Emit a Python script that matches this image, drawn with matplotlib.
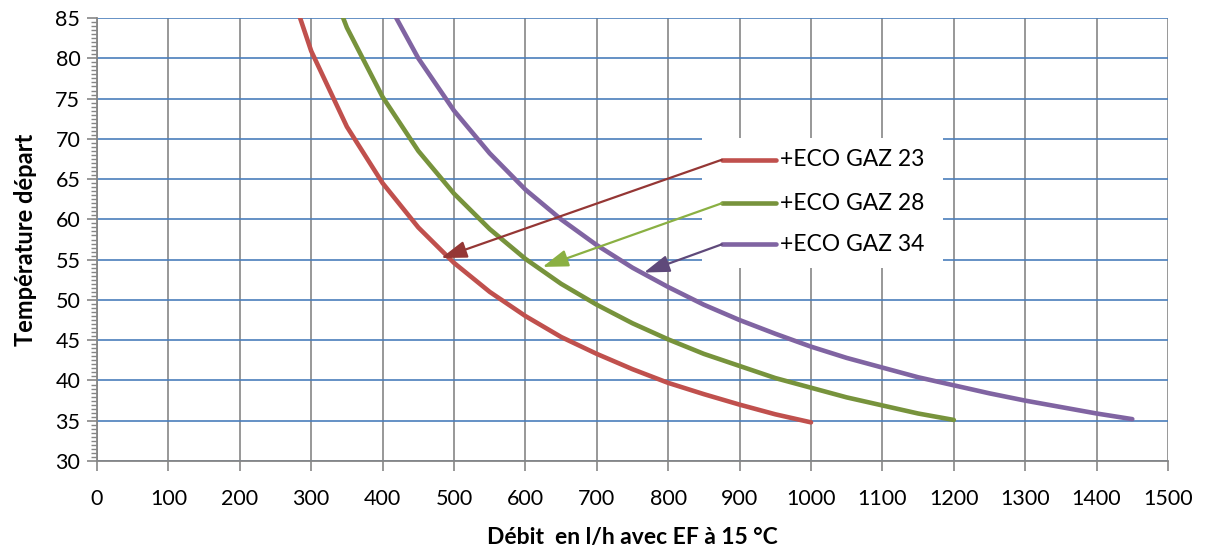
import matplotlib.pyplot as plt
from matplotlib.ticker import MultipleLocator
from matplotlib.patches import Rectangle

plt.rcParams['font.family'] = ['Lato', 'DejaVu Sans']

# valeurs (débit l/h -> température départ °C)
debit_23 = [250, 300, 350, 400, 450, 500, 550, 600, 650, 700, 750, 800, 850, 900, 950, 1000]
temp_23 = [94.1, 80.9, 71.5, 64.5, 59.0, 54.6, 51.0, 48.0, 45.4, 43.3, 41.4, 39.7, 38.3, 37.0, 35.8, 34.8]

debit_28 = [300, 350, 400, 450, 500, 550, 600, 650, 700, 750, 800, 850, 900, 950, 1000,
            1050, 1100, 1150, 1200]
temp_28 = [95.3, 83.8, 75.2, 68.5, 63.2, 58.8, 55.1, 52.0, 49.4, 47.1, 45.1, 43.3, 41.8, 40.3, 39.1,
           37.9, 36.9, 35.9, 35.1]

debit_34 = [400, 450, 500, 550, 600, 650, 700, 750, 800, 850, 900, 950, 1000, 1050, 1100,
            1150, 1200, 1250, 1300, 1350, 1400, 1450]
temp_34 = [88.1, 80.0, 73.5, 68.2, 63.7, 60.0, 56.8, 54.0, 51.6, 49.4, 47.5, 45.8, 44.2, 42.8, 41.6,
           40.4, 39.4, 38.4, 37.5, 36.7, 35.9, 35.2]

noms = ['+ECO GAZ 23', '+ECO GAZ 28', '+ECO GAZ 34']
couleurs = ['#C0504D', '#77933C', '#8064A2']
couleurs_fleche = ['#953735', '#8AB043', '#5F497A']

# pointes des flèches sur les courbes
pointe_x = [482, 624, 766]
pointe_y = [55.2, 54.1, 53.4]

fig = plt.figure(figsize=(12.11, 5.51), dpi=100)
ax = fig.add_axes([0.0801, 0.1633, 0.8844, 0.804])

series = [(debit_23, temp_23), (debit_28, temp_28), (debit_34, temp_34)]
for (x, y), c in zip(series, couleurs):
    ax.plot(x, y, color=c, lw=3.3, solid_capstyle='round', zorder=3)

ax.set_xlim(0, 1500)
ax.set_ylim(30, 85)
ax.xaxis.set_major_locator(MultipleLocator(100))
ax.yaxis.set_major_locator(MultipleLocator(5))
ax.yaxis.set_minor_locator(MultipleLocator(0.5))

ax.grid(axis='x', color='#868686', lw=1.2, zorder=1)
ax.grid(axis='y', color='#4A7EBB', lw=1.2, zorder=1)
ax.set_axisbelow(True)

for s in ['top', 'right']:
    ax.spines[s].set_visible(False)
for s in ['left', 'bottom']:
    ax.spines[s].set_color('#868686')
    ax.spines[s].set_linewidth(1.3)
ax.tick_params(axis='both', which='major', length=7, width=1.2, color='#868686',
               labelsize=15.5, pad=5)
ax.tick_params(axis='y', which='minor', length=4, width=1.0, color='#868686')
ax.tick_params(axis='x', pad=13)

ax.set_xlabel('Débit  en l/h avec EF à 15 °C', fontsize=16.5, fontweight='bold', labelpad=13)
ax.set_ylabel('Température départ', fontsize=17, fontweight='bold', labelpad=13)

# légende (fond blanc) avec flèches vers les courbes
ax.add_patch(Rectangle((847, 54.0), 338, 16.1, facecolor='white', edgecolor='none', zorder=2))
legende_y = [67.4, 62.0, 56.9]
for nom, c, cf, ly, px, py in zip(noms, couleurs, couleurs_fleche, legende_y, pointe_x, pointe_y):
    ax.plot([875, 951], [ly, ly], color=c, lw=3.3, solid_capstyle='round', zorder=4)
    ax.text(956, ly, nom, fontsize=16.5, va='center', ha='left', zorder=4)
    ax.annotate('', xy=(px, py), xytext=(875, ly),
                arrowprops=dict(arrowstyle='-|>,head_length=0.6,head_width=0.2', color=cf,
                                lw=1.6, mutation_scale=26, shrinkA=0, shrinkB=0), zorder=5)

fig.savefig('out.png', dpi=100)
